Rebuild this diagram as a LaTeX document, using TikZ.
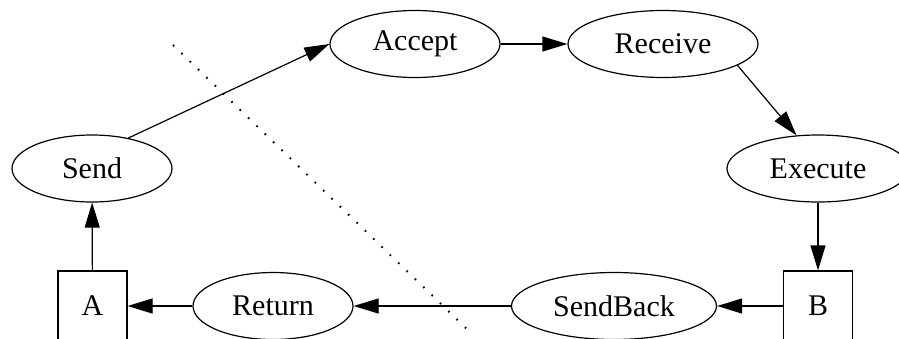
\documentclass[tikz,border=0pt]{standalone}
\usepackage{fontspec}
\setmainfont{Liberation Serif}
\usetikzlibrary{arrows.meta,shapes.geometric}
\begin{document}
\begin{tikzpicture}[x=1pt,y=-1pt,
	state/.style={draw,ellipse,line width=1.2pt,inner sep=0pt,minimum height=67pt,font=\fontsize{30}{35}\selectfont},
	proc/.style={draw,rectangle,line width=1.2pt,inner sep=0pt,minimum width=69pt,minimum height=70pt,font=\fontsize{30}{35}\selectfont},
	edge/.style={line width=1.2pt,-{Triangle[length=25pt,width=15pt]}}]
	\useasboundingbox (0,0) rectangle (899,338);
	\clip (0,0) rectangle (899,338);
	\node[state,minimum width=160pt] (Send) at (92,168.5) {Send};
	\node[state,minimum width=170pt] (Accept) at (415,44) {Accept};
	\node[state,minimum width=190pt] (Receive) at (663,44) {Receive};
	\node[state,minimum width=182pt] (Execute) at (818,168.5) {Execute};
	\node[proc] (B) at (818,306) {B};
	\node[state,minimum width=205pt] (SendBack) at (614,306) {SendBack};
	\node[state,minimum width=160pt] (Return) at (273,306) {Return};
	\node[proc] (A) at (92.5,306) {A};
	\coordinate (cutTop) at (173,45);
	\coordinate (cutBot) at (471,333);
	\draw[line width=2pt,dash pattern=on 1.6pt off 10pt] (cutTop) -- (cutBot);
	\draw[edge] (A) -- (Send);
	\draw[edge] (Send.40) -- (Accept.west);
	\draw[edge] (Accept) -- (Receive);
	\draw[edge] (Receive.-16) -- (Execute.123);
	\draw[edge] (Execute) -- (B);
	\draw[edge] (B) -- (SendBack);
	\draw[edge] (SendBack) -- (Return);
	\draw[edge] (Return) -- (A);
\end{tikzpicture}
\end{document}
